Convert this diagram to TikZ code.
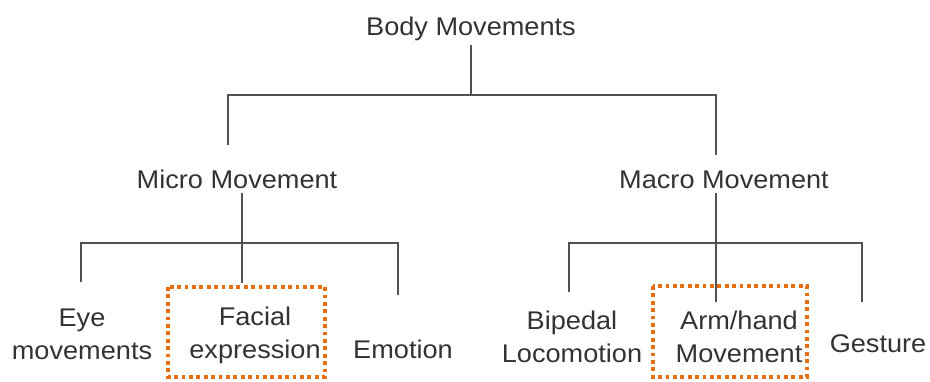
\documentclass[tikz,border=0pt]{standalone}
\usepackage{fontspec}
\setmainfont{Liberation Sans}[FakeStretch=1.06]
\definecolor{hiorange}{RGB}{230,110,15}
\begin{document}
\begin{tikzpicture}[x=0.5pt,y=-0.5pt,
  lbl/.style={font=\fontsize{12.8}{16.5}\selectfont, text=black!80, inner sep=0pt, outer sep=0pt, align=center},
  conn/.style={draw=black!68, line width=1pt},
  hibox/.style={draw=hiorange, line width=2pt, dash pattern=on 1.9pt off 1.8pt}]
\useasboundingbox (0,0) rectangle (930,381);
% nodes
\node[lbl, anchor=base] (root) at (471,35) {Body Movements};
\node[lbl, anchor=base] (micro) at (237,188) {Micro Movement};
\node[lbl, anchor=base] (macro) at (724,188) {Macro Movement};
\node[lbl] (eye) at (82,334) {Eye\\movements};
\node[lbl] (facial) at (255,335) {Facial\\expression};
\node[lbl, anchor=base] (emotion) at (403,358) {Emotion};
\node[lbl] (bipedal) at (572,336.5) {Bipedal\\Locomotion};
\node[lbl] (arm) at (739,336.5) {Arm/hand\\Movement};
\node[lbl, anchor=base] (gesture) at (878,352) {Gesture};
% highlight boxes
\draw[hibox] (168,287) rectangle (325,377);
\draw[hibox] (653,286) rectangle (807,377);
% coordinates for connector ends
\coordinate (rootbot) at (471,45);
\coordinate (bus0) at (471,95);
\coordinate (microtop) at (228,145);
\coordinate (macrotop) at (716,155);
\coordinate (microbot) at (242,193);
\coordinate (macrobot) at (716,193);
\coordinate (eyetop) at (81,282);
\coordinate (facialtop) at (242,283);
\coordinate (emotiontop) at (398,295);
\coordinate (bipedaltop) at (569,292);
\coordinate (armtop) at (716,302);
\coordinate (gesturetop) at (862,302);
% connectors
\draw[conn] (rootbot) -- (bus0);
\draw[conn] (microtop) |- (macrotop |- bus0) -- (macrotop);
\draw[conn] (microbot) -- (facialtop);
\draw[conn] (eyetop) |- (emotiontop |- 0,243) -- (emotiontop);
\draw[conn] (macrobot) -- (armtop);
\draw[conn] (bipedaltop) |- (gesturetop |- 0,243) -- (gesturetop);
\end{tikzpicture}
\end{document}
